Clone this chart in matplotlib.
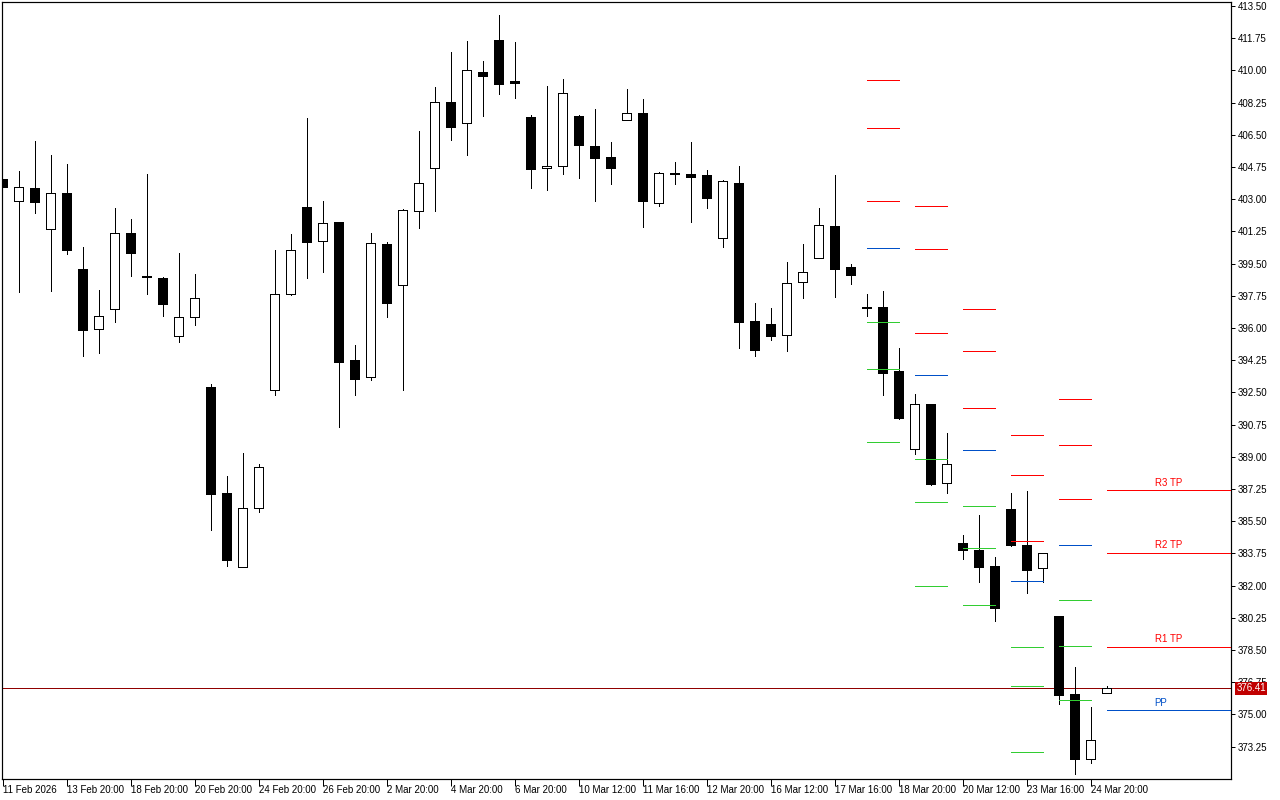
"""
MT-style candlestick chart with daily pivot levels (R3..S3) and current price
"""

import numpy as np
import matplotlib
matplotlib.use("Agg")
import matplotlib.pyplot as plt
from matplotlib.patches import Rectangle
from matplotlib.transforms import blended_transform_factory

plt.rcParams["font.family"] = ["Liberation Sans", "DejaVu Sans"]

# --- OHLC, one entry per bar ---
opens = [404.10, 402.89, 403.59, 401.40, 403.32, 399.19, 395.93, 397.02, 401.15, 398.80,
         398.70, 395.55, 396.58, 392.79, 387.02, 382.99, 386.20, 392.61, 397.83, 402.56,
         400.71, 401.76, 394.24, 393.35, 400.55, 398.35, 402.34, 404.68, 408.27, 407.12,
         409.91, 411.65, 409.42, 407.47, 404.68, 404.79, 407.52, 405.89, 405.29, 407.29,
         407.67, 402.78, 404.41, 404.37, 404.32, 400.87, 403.88, 396.38, 396.22, 395.60,
         398.48, 399.79, 401.53, 399.32, 397.13, 397.14, 393.66, 389.41, 391.87, 387.56,
         384.32, 383.93, 383.07, 386.16, 384.21, 382.94, 380.35, 376.11, 372.56, 376.15]
highs = [404.10, 404.53, 406.16, 405.40, 404.91, 400.40, 398.07, 402.51, 401.92, 404.37,
         398.76, 400.08, 398.93, 392.96, 387.96, 389.21, 388.61, 400.24, 401.09, 407.41,
         402.90, 401.76, 395.08, 401.16, 400.66, 402.45, 406.71, 409.10, 411.00, 411.60,
         410.51, 413.01, 411.54, 407.58, 409.15, 409.53, 407.58, 407.90, 406.11, 408.99,
         408.45, 404.46, 405.02, 406.11, 404.59, 404.03, 404.80, 397.36, 397.09, 399.59,
         400.57, 402.52, 404.32, 399.48, 397.85, 398.01, 394.91, 392.41, 391.87, 390.29,
         384.75, 385.84, 383.55, 387.03, 387.14, 383.76, 380.35, 377.58, 375.40, 376.54]
lows = [403.66, 397.97, 402.27, 398.03, 400.04, 394.49, 394.66, 396.34, 398.84, 397.86,
        396.67, 395.26, 396.18, 385.04, 383.08, 382.99, 386.02, 392.37, 397.78, 398.73,
        399.06, 390.64, 392.37, 393.19, 396.61, 392.65, 401.45, 402.38, 406.23, 405.42,
        407.54, 408.73, 408.52, 403.63, 403.52, 404.39, 404.17, 402.92, 403.84, 407.29,
        401.49, 402.61, 403.84, 401.78, 402.54, 400.42, 394.93, 394.49, 395.36, 394.77,
        397.65, 399.79, 397.70, 398.41, 396.67, 392.37, 391.07, 389.17, 387.48, 387.05,
        383.46, 382.21, 380.09, 384.17, 381.61, 382.21, 375.58, 371.78, 372.38, 376.15]
closes = [403.66, 403.65, 402.86, 403.32, 400.26, 395.91, 396.64, 401.15, 400.09, 398.77,
          397.32, 396.58, 397.61, 386.99, 383.41, 386.20, 388.43, 397.83, 400.22, 400.69,
          401.69, 394.17, 393.24, 400.60, 397.38, 402.40, 403.86, 408.27, 406.94, 410.01,
          409.71, 409.28, 409.33, 404.66, 404.79, 408.76, 405.96, 405.26, 404.71, 407.67,
          402.92, 404.41, 404.37, 404.22, 403.08, 403.97, 396.34, 394.82, 395.58, 398.43,
          399.03, 401.58, 399.22, 398.90, 397.09, 393.57, 391.12, 391.85, 387.54, 388.59,
          383.95, 383.03, 380.80, 384.22, 382.86, 383.76, 376.07, 372.59, 373.59, 376.41]

# time axis labels (every 4th bar)
xtick_bars = [0, 4, 8, 12, 16, 20, 24, 28, 32, 36, 40, 44, 48, 52, 56, 60, 64, 68]
xtick_labels = ["11 Feb 2026", "13 Feb 20:00", "18 Feb 20:00", "20 Feb 20:00",
                "24 Feb 20:00", "26 Feb 20:00", "2 Mar 20:00", "4 Mar 20:00",
                "6 Mar 20:00", "10 Mar 12:00", "11 Mar 16:00", "12 Mar 20:00",
                "16 Mar 12:00", "17 Mar 16:00", "18 Mar 20:00", "20 Mar 12:00",
                "23 Mar 16:00", "24 Mar 20:00"]

# --- daily pivot levels, one value per day block ---
pivot_start = [54, 57, 60, 63, 66, 69]
r3 = [409.46, 402.63, 397.02, 390.17, 392.13, 387.18]
r2 = [406.85, 400.28, 394.73, 387.99, 389.63, 383.76]
r1 = [402.89, 395.71, 391.64, 384.41, 386.69, 378.65]
pp = [400.33, 393.43, 389.35, 382.23, 384.19, 375.22]
s1 = [396.31, 388.86, 386.31, 378.65, 381.20, None]
s2 = [393.76, 386.53, 384.03, 376.53, 378.70, None]
s3 = [389.79, 381.98, 380.93, 372.94, 375.77, None]

current_price = 376.41

RED = "#ff0000"
BLUE = "#0050c8"
GREEN = "#32cd32"
PRICE_RED = "#900000"
PX = 0.72  # 1 px in points at dpi 100

X_MIN, X_MAX = -0.0125, 76.78
Y_MIN, Y_MAX = 371.49, 413.70

fig = plt.figure(figsize=(12.8, 8), dpi=100, facecolor="white")
ax = fig.add_axes([2.3 / 1280, 21 / 800, 1228.7 / 1280, 776.7 / 800])
ax.set_facecolor("white")

# candles (crisp, no antialiasing like the terminal)
body_w = 0.62
for i, (o, h, l, c) in enumerate(zip(opens, highs, lows, closes)):
    ax.vlines(i, l, h, color="black", linewidth=PX, zorder=2,
              antialiased=False)
    bottom = min(o, c)
    height = max(abs(c - o), 0.04)
    face = "white" if c > o else "black"
    ax.add_patch(Rectangle((i - body_w / 2, bottom), body_w, height,
                           facecolor=face, edgecolor="black",
                           linewidth=PX, zorder=3, antialiased=False))

# pivot segments
levels = [(r3, RED), (r2, RED), (r1, RED), (pp, BLUE),
          (s1, GREEN), (s2, GREEN), (s3, GREEN)]
for k, start in enumerate(pivot_start):
    end = X_MAX if k == len(pivot_start) - 1 else start + 2
    for vals, col in levels:
        v = vals[k]
        if v is None:
            continue
        ax.hlines(v, start, end, color=col, linewidth=PX, zorder=4,
                  antialiased=False)

# labels on the current day's levels
last = len(pivot_start) - 1
for vals, txt, col in [(r3, "R3 TP", RED), (r2, "R2 TP", RED),
                       (r1, "R1 TP", RED), (pp, "PP", BLUE)]:
    ax.annotate(txt, xy=(72.0, vals[last]), xytext=(0, 2),
                textcoords="offset points", ha="left", va="bottom",
                fontsize=7, color=col, zorder=5)

# current price line + box
ax.axhline(current_price, color=PRICE_RED, linewidth=PX, zorder=1,
           antialiased=False)
trans = blended_transform_factory(ax.transAxes, ax.transData)
ax.text(1.0045, current_price, f"{current_price:.2f}", transform=trans,
        ha="left", va="center", fontsize=7, color="white", clip_on=False,
        zorder=10,
        bbox=dict(boxstyle="square,pad=0.12", facecolor="#c00000",
                  edgecolor="none"))

# axes
ax.set_xlim(X_MIN, X_MAX)
ax.set_ylim(Y_MIN, Y_MAX)

yt = np.arange(373.25, 413.51, 1.75)
ax.yaxis.tick_right()
ax.set_yticks(yt)
ax.set_yticklabels([f"{v:.2f}" for v in yt])
ax.tick_params(axis="y", direction="out", length=3, width=PX, pad=2,
               labelsize=7, colors="black")

ax.set_xticks(xtick_bars)
ax.set_xticklabels(xtick_labels, ha="left")
ax.tick_params(axis="x", direction="out", length=5, width=PX, pad=-1,
               labelsize=7, colors="black")

for sp in ax.spines.values():
    sp.set_color("black")
    sp.set_linewidth(PX * 1.2)

fig.savefig("out.png", dpi=100, facecolor="white")
plt.close(fig)
